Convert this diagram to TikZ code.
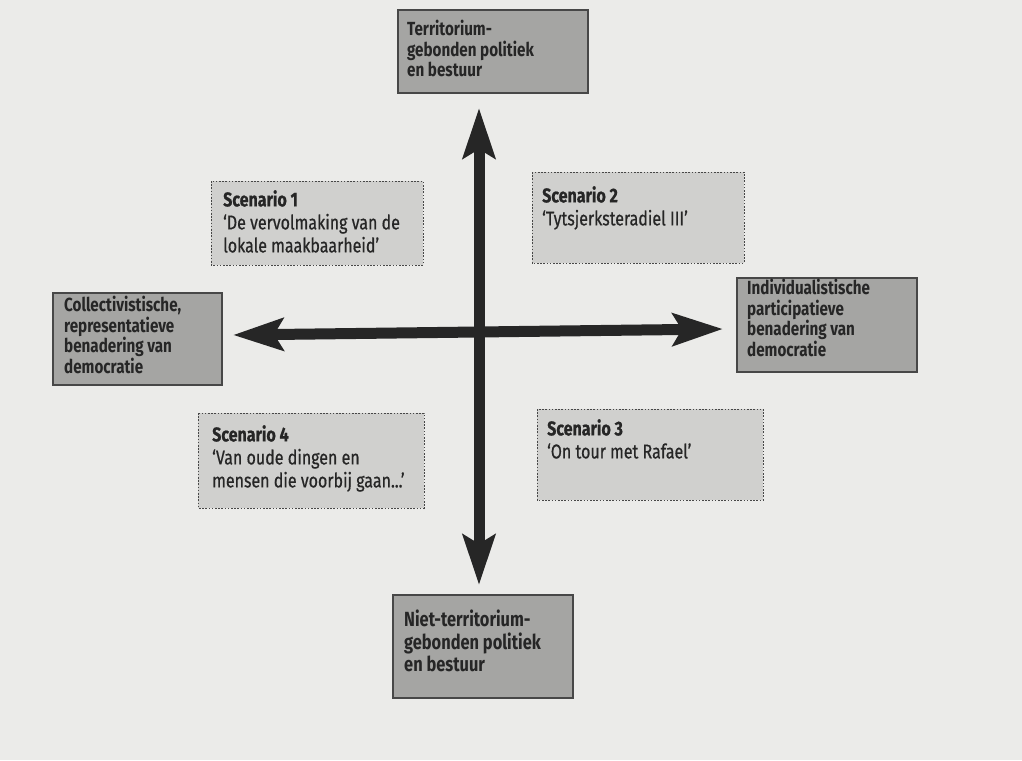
\documentclass[tikz,border=0pt]{standalone}
\usepackage{fontspec}
\setmainfont{Fira Sans}
\newfontfamily\hdfont{Fira Sans}[FakeStretch=0.8]
\newfontfamily\scfont{Fira Sans}[FakeStretch=0.8,FakeBold=0.6]
\usetikzlibrary{arrows.meta}
\definecolor{paper}{HTML}{EBEBE9}
\definecolor{dark}{HTML}{A5A5A3}
\definecolor{light}{HTML}{D0D0CE}
\definecolor{ink}{HTML}{262626}
\tikzset{
  axisbox/.style={draw=ink!85, line width=1.2pt, fill=dark},
  scenbox/.style={draw=ink!85, line width=1pt, dash pattern=on 1.6pt off 1.6pt, fill=light},
  boxtext/.style={anchor=north west, inner sep=0pt, align=left, text=ink,
    font=\hdfont\fontsize{19}{20.5}\selectfont\bfseries},
  bigboxtext/.style={boxtext, font=\hdfont\fontsize{20.5}{22.5}\selectfont\bfseries},
  scentext/.style={anchor=north west, inner sep=0pt, align=left, text=ink,
    font=\scfont\fontsize{20}{23}\selectfont},
  axisline/.style={draw=ink, line width=11pt,
    {Stealth[length=50pt,width=32pt,inset=9pt]}-{Stealth[length=50pt,width=32pt,inset=9pt]}}
}
\begin{document}
\begin{tikzpicture}[x=1pt,y=-1pt]
\fill[paper] (0,0) rectangle (1022,760);
\useasboundingbox (0,0) rectangle (1022,760);
% axis boxes
\path[axisbox] (398,10) rectangle (588,93);
\node[boxtext] (toptxt) at (407,20) {Territorium-\\gebonden politiek\\en bestuur};
\path[axisbox] (53,293) rectangle (222,385);
\node[boxtext] (lefttxt) at (64,296) {Collectivistische,\\representatieve\\benadering van\\democratie};
\path[axisbox] (737,278) rectangle (917,372);
\node[boxtext] (righttxt) at (747,279) {Individualistische\\participatieve\\benadering van\\democratie};
\path[axisbox] (393,595) rectangle (573,698);
\node[bigboxtext] (bottxt) at (404,610) {Niet-territorium-\\gebonden politiek\\en bestuur};
% scenario boxes
\path[scenbox] (211,181) rectangle (423,265);
\node[scentext] (s1) at (223,190) {\textbf{Scenario 1}\\‘De vervolmaking van de\\lokale maakbaarheid’};
\path[scenbox] (532,172) rectangle (744,263);
\node[scentext] (s2) at (542,186) {\textbf{Scenario 2}\\‘Tytsjerksteradiel III’};
\path[scenbox] (198,413) rectangle (424,508);
\node[scentext] (s4) at (212,425) {\textbf{Scenario 4}\\‘Van oude dingen en\\mensen die voorbij gaan...’};
\path[scenbox] (537,409) rectangle (763,500);
\node[scentext] (s3) at (547,419) {\textbf{Scenario 3}\\‘On tour met Rafael’};
% axes
\coordinate (vtop) at (479,108);
\coordinate (vbot) at (479,585);
\coordinate (hleft) at (233,335);
\coordinate (hright) at (723,329);
\draw[axisline] (vtop) -- (vbot);
\draw[axisline] (hleft) -- (hright);
\end{tikzpicture}
\end{document}
